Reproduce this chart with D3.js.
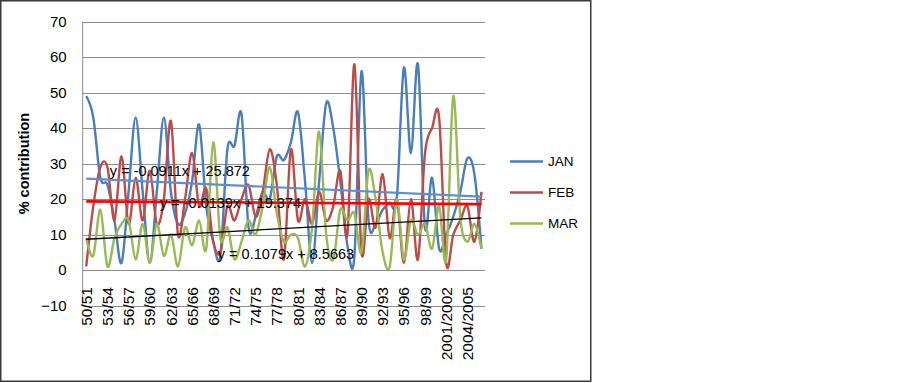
<!DOCTYPE html>
<html>
<head>
<meta charset="utf-8">
<script src="https://cdn.jsdelivr.net/npm/d3@7"></script>
<style>
  body { margin: 0; background: #fff; }
  text { font-family: "Liberation Sans", Arial, sans-serif; fill: #000; }
</style>
</head>
<body>
<div id="chart"></div>
<script>
// Category labels (seasons)
const categories = [
  "50/51","51/52","52/53","53/54","54/55","55/56","56/57","57/58","58/59","59/60",
  "60/61","61/62","62/63","63/64","64/65","65/66","66/67","67/68","68/69","69/70",
  "70/71","71/72","72/73","73/74","74/75","75/76","76/77","77/78","78/79","79/80",
  "80/81","81/82","82/83","83/84","84/85","85/86","86/87","87/88","88/89","89/90",
  "90/91","91/92","92/93","93/94","94/95","95/96","96/97","97/98","98/99","99/2000",
  "2000/2001","2001/2002","2002/2003","2003/2004","2004/2005","2005/2006","2006/2007"
];

// % contribution per month
const jan = [49, 43, 26, 24, 14, 2, 22, 43, 22, 2,
             22, 43, 22, 13, 16, 25, 41, 18, 8, 4,
             34, 35, 44, 12, 15, 22, 20, 32, 31, 36,
             44.5, 25, 2, 25, 47, 40, 25, 7, 4, 56,
             14, 13, 17, 19, 20, 57, 33, 58, 12, 26,
             6, 10, 15, 22, 31.5, 27, 6];
const feb = [1, 18, 29, 29, 14, 32, 13, 26, 14, 28,
             13, 20, 42, 10, 20, 33, 18, 23, 8, 5,
             18, 14, 20, 24, 15, 22, 34, 24, 3, 34,
             14, 20, 13, 22, 14, 18, 28, 10, 58, 5,
             20, 12, 27, 9, 20, 2, 20, 3, 33, 40,
             43, 2, 10, 14, 18, 8, 22];
const mar = [9, 4, 17, 1, 9, 13, 14, 3, 13, 2,
             13, 4, 10, 1, 12, 7, 14, 6, 36, 9,
             12, 3, 8, 14, 10, 18, 29, 16, 8, 10,
             9, 1, 12, 39, 10, 3, 17, 14, 16, 5,
             28, 20, 5, 1, 20, 3, 14, 10, 13, 6,
             18, 3, 49, 15, 8, 13, 6];

// Linear trendlines as printed on the chart: [slope, intercept], x = 1..n
const janTrend = [-0.0911, 25.872];
const febTrend = [-0.0139, 19.374];
const marTrend = [0.1079, 8.5663];

const yTicks = [-10, 0, 10, 20, 30, 40, 50, 60, 70];
const seriesNames = ["JAN", "FEB", "MAR"];
const seriesColors = ["#4a7ebb", "#be4b48", "#98b954"];

const W = 899, H = 383;
const plot = { left: 82.7, right: 485, top: 21.7, bottom: 305.5 };

const svg = d3.select("#chart").append("svg")
    .attr("width", W)
    .attr("height", H);

svg.append("rect")
    .attr("width", W).attr("height", H)
    .attr("fill", "#fff");

// chart frame
svg.append("rect")
    .attr("x", 0.75).attr("y", 0.75)
    .attr("width", 590).attr("height", 380.5)
    .attr("fill", "none")
    .attr("stroke", "#3a3a3a")
    .attr("stroke-width", 1.5);

const x = d3.scaleBand()
    .domain(categories)
    .range([plot.left, plot.right])
    .paddingInner(0).paddingOuter(0);
const cx = c => x(c) + x.bandwidth() / 2;

const y = d3.scaleLinear()
    .domain([-10, 70])
    .range([plot.bottom, plot.top]);

// gridlines
svg.append("g")
    .selectAll("line")
    .data(yTicks)
    .enter()
    .append("line")
    .attr("x1", plot.left).attr("x2", plot.right)
    .attr("y1", d => Math.round(y(d)) + 0.5)
    .attr("y2", d => Math.round(y(d)) + 0.5)
    .attr("stroke", "#8c8c8c")
    .attr("stroke-width", 1);

// vertical axis line
svg.append("line")
    .attr("x1", plot.left).attr("x2", plot.left)
    .attr("y1", plot.top).attr("y2", plot.bottom)
    .attr("stroke", "#8c8c8c");

// y axis labels
const yAxis = svg.append("g")
    .attr("transform", `translate(${plot.left}, 0)`)
    .call(d3.axisLeft(y).tickValues(yTicks).tickSize(0).tickPadding(16));
yAxis.select(".domain").remove();
yAxis.selectAll("text")
    .style("font-size", "15px")
    .style("font-family", "'Liberation Sans', Arial, sans-serif");

// x axis labels, every third category, crossing at 0
const xAxis = svg.append("g")
    .attr("transform", `translate(0, ${y(0)})`)
    .call(d3.axisBottom(x).tickValues(categories.filter((d, i) => i % 3 === 0)).tickSize(0));
xAxis.select(".domain").remove();
xAxis.selectAll("text")
    .attr("transform", "rotate(-90)")
    .attr("x", -17)
    .attr("y", 0)
    .attr("dy", "0.36em")
    .attr("text-anchor", "end")
    .style("font-size", "15.5px")
    .style("font-family", "'Liberation Sans', Arial, sans-serif");

// axis title
svg.append("text")
    .attr("transform", `translate(29, ${(plot.top + plot.bottom) / 2}) rotate(-90)`)
    .attr("text-anchor", "middle")
    .style("font-size", "14.5px")
    .style("font-weight", "bold")
    .text("% contribution");

// series lines (smoothed)
const line = d3.line()
    .x((d, i) => cx(categories[i]))
    .y(d => y(d))
    .curve(d3.curveCardinal.tension(0));

[jan, feb, mar].forEach((vals, k) => {
    svg.append("path")
        .datum(vals)
        .attr("fill", "none")
        .attr("stroke", seriesColors[k])
        .attr("stroke-width", 2.4)
        .attr("stroke-linejoin", "round")
        .attr("d", line);
});

// trendlines
const n = categories.length;
const trends = [
    { c: janTrend, color: "#5b8fd0", w: 2.2 },
    { c: febTrend, color: "#ff0000", w: 2.6 },
    { c: marTrend, color: "#000000", w: 1.3 }
];
trends.forEach(t => {
    svg.append("line")
        .attr("x1", cx(categories[0]))
        .attr("x2", cx(categories[n - 1]))
        .attr("y1", y(t.c[0] * 1 + t.c[1]))
        .attr("y2", y(t.c[0] * n + t.c[1]))
        .attr("stroke", t.color)
        .attr("stroke-width", t.w);
});

// trendline equations
const fmt = c => `y = ${c[0]}x + ${c[1]}`;
const eqLabels = [
    { text: fmt(janTrend), at: 3.35, v: 27.9 },
    { text: fmt(febTrend), at: 10.45, v: 19 },
    { text: fmt(marTrend), at: 18.65, v: 4.5 }
];
svg.selectAll(".eq")
    .data(eqLabels)
    .enter()
    .append("text")
    .attr("class", "eq")
    .attr("x", d => cx(categories[0]) + d.at * x.bandwidth())
    .attr("y", d => y(d.v))
    .attr("dy", "0.35em")
    .style("font-size", "14.5px")
    .text(d => d.text);

// legend
const legend = svg.append("g")
    .attr("transform", "translate(510, 161.5)");
seriesNames.forEach((name, k) => {
    const g = legend.append("g").attr("transform", `translate(0, ${k * 31})`);
    g.append("line")
        .attr("x1", 0).attr("x2", 33)
        .attr("stroke", seriesColors[k])
        .attr("stroke-width", 2.4);
    g.append("text")
        .attr("x", 38)
        .attr("dy", "0.35em")
        .style("font-size", "13.5px")
        .text(name);
});
</script>
</body>
</html>
